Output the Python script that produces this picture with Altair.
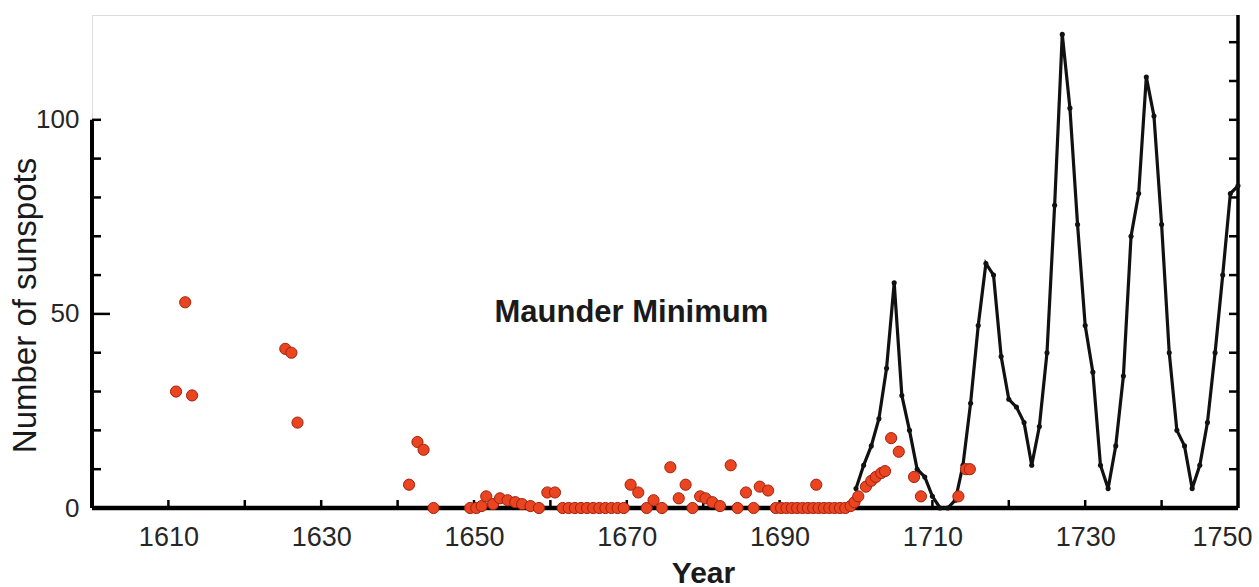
import altair as alt
import pandas as pd

# Observed (early telescopic) sunspot numbers - red dots
red_years = [1611.0, 1612.2, 1613.1, 1625.3, 1626.1, 1626.9, 1641.5, 1642.6, 1643.4, 1644.7,
             1649.5, 1650.3, 1651.0, 1651.6, 1652.5, 1653.4, 1654.4, 1655.4, 1656.3, 1657.4,
             1658.5, 1659.6, 1660.6, 1661.6,
             1662.4, 1663.2, 1664.0, 1664.8, 1665.6, 1666.4, 1667.2, 1668.0, 1668.8, 1669.6,
             1670.5, 1671.5, 1672.6, 1673.5, 1674.6, 1675.7, 1676.8, 1677.7, 1678.6, 1679.6,
             1680.3, 1681.2, 1682.2, 1683.6, 1684.5, 1685.6, 1686.6, 1687.4, 1688.5, 1689.5,
             1690.2, 1690.9, 1691.6, 1692.3, 1693.0, 1693.7, 1694.4, 1694.8, 1695.1, 1695.8,
             1696.5, 1697.2, 1697.9, 1698.6, 1699.3, 1699.8,
             1700.3, 1701.3, 1702.0, 1702.6, 1703.3, 1703.8, 1704.6, 1705.6, 1707.6, 1708.5,
             1713.4, 1714.4, 1714.9]
red_values = [30, 53, 29, 41, 40, 22, 6, 17, 15, 0,
              0, 0, 0.5, 3, 1, 2.5, 2, 1.5, 1, 0.5,
              0, 4, 4, 0,
              0, 0, 0, 0, 0, 0, 0, 0, 0, 0,
              6, 4, 0, 2, 0, 10.5, 2.5, 6, 0, 3,
              2.5, 1.5, 0.5, 11, 0, 4, 0, 5.5, 4.5, 0,
              0, 0, 0, 0, 0, 0, 0, 6, 0, 0,
              0, 0, 0, 0, 0.5, 1.5,
              3, 5.5, 7, 8, 9, 9.5, 18, 14.5, 8, 3,
              3, 10, 10]

# Yearly sunspot numbers - black line
line_years = [1700, 1701, 1702, 1703, 1704, 1705, 1706, 1707, 1708, 1709,
              1710, 1711, 1712, 1713, 1714, 1715, 1716, 1717, 1718, 1719,
              1720, 1721, 1722, 1723, 1724, 1725, 1726, 1727, 1728, 1729,
              1730, 1731, 1732, 1733, 1734, 1735, 1736, 1737, 1738, 1739,
              1740, 1741, 1742, 1743, 1744, 1745, 1746, 1747, 1748, 1749, 1750]
line_values = [5, 11, 16, 23, 36, 58, 29, 20, 10, 8,
               3, 0, 0, 2, 11, 27, 47, 63, 60, 39,
               28, 26, 22, 11, 21, 40, 78, 122, 103, 73,
               47, 35, 11, 5, 16, 34, 70, 81, 111, 101,
               73, 40, 20, 16, 5, 11, 22, 40, 60, 81, 83]

# Axes
x_tick_years = [1610, 1620, 1630, 1640, 1650, 1660, 1670, 1680, 1690, 1700, 1710, 1720, 1730, 1740]
x_label_years = [1610, 1630, 1650, 1670, 1690, 1710, 1730, 1750]
y_label_values = [0, 50, 100]
y_minor_ticks = [10, 20, 30, 40, 60, 70, 80, 90, 100]
y_major_ticks = [50]
right_ticks = [10, 20, 30, 40, 50, 60, 70, 80, 90, 100, 110, 120]
x_domain = [1600, 1750]
y_domain = [0, 127]

annot_text = ["Maunder Minimum"]
annot_x = [1670.6]
annot_y = [48]

FONT = "Liberation Sans"

xs = alt.Scale(domain=x_domain, nice=False, zero=False)
ys = alt.Scale(domain=y_domain, nice=False, zero=False)

x_axis = alt.Axis(values=x_label_years, format="d", domain=False, ticks=False, tickSize=0,
                  grid=False, labelFont=FONT, labelFontSize=27, labelColor="#262626",
                  labelPadding=16, labelOverlap=False, labelFlush=True, labelFlushOffset=14,
                  title="Year", titleFont=FONT, titleFontSize=30, titleFontWeight="bold",
                  titleColor="#1a1a1a", titleX=611, titleY=74, titleBaseline="alphabetic",
                  titleAlign="center")
y_axis = alt.Axis(values=y_label_values, format="d", domain=False, ticks=False, tickSize=0,
                  grid=False, labelFont=FONT, labelFontSize=26, labelColor="#262626",
                  labelPadding=13, labelOverlap=False,
                  title="Number of sunspots", titleFont=FONT, titleFontSize=33,
                  titleFontWeight="normal", titleColor="#1a1a1a", titleX=-57, titleY=290,
                  titleAngle=270, titleBaseline="alphabetic", titleAlign="center")

X = alt.X("x:Q", scale=xs, axis=x_axis)
Y = alt.Y("y:Q", scale=ys, axis=y_axis)

red_df = pd.DataFrame({"x": red_years, "y": red_values})
line_df = pd.DataFrame({"x": line_years, "y": line_values})

# axis lines
xline_df = pd.DataFrame({"x": [x_domain[0]], "x2": [x_domain[1]], "y": [0]})
left_df = pd.DataFrame({"x": [x_domain[0]], "y": [0], "y2": [100]})
right_df = pd.DataFrame({"x": [x_domain[1]], "y": [0], "y2": [y_domain[1]]})

xticks_df = pd.DataFrame({"x": x_tick_years, "y": [0] * len(x_tick_years),
                          "y2": [0] * len(x_tick_years)})
lminor_df = pd.DataFrame({"x": [x_domain[0]] * len(y_minor_ticks),
                          "x2": [x_domain[0]] * len(y_minor_ticks), "y": y_minor_ticks})
lmajor_df = pd.DataFrame({"x": [x_domain[0]] * len(y_major_ticks),
                          "x2": [x_domain[0]] * len(y_major_ticks), "y": y_major_ticks})
rticks_df = pd.DataFrame({"x": [x_domain[1]] * len(right_ticks),
                          "x2": [x_domain[1]] * len(right_ticks), "y": right_ticks})
annot_df = pd.DataFrame({"x": annot_x, "y": annot_y, "t": annot_text})

AX = "#000000"

xline = alt.Chart(xline_df).mark_rule(color=AX, strokeWidth=4.5).encode(x=X, x2="x2:Q", y=Y)
lline = alt.Chart(left_df).mark_rule(color=AX, strokeWidth=4).encode(x=X, y=Y, y2="y2:Q")
rline = alt.Chart(right_df).mark_rule(color=AX, strokeWidth=3.5).encode(x=X, y=Y, y2="y2:Q")
xt = alt.Chart(xticks_df).mark_rule(color=AX, strokeWidth=2.5, y2Offset=-8).encode(x=X, y=Y, y2="y2:Q")
lmin = alt.Chart(lminor_df).mark_rule(color=AX, strokeWidth=2.5, x2Offset=9).encode(x=X, x2="x2:Q", y=Y)
lmaj = alt.Chart(lmajor_df).mark_rule(color=AX, strokeWidth=2.5, x2Offset=18).encode(x=X, x2="x2:Q", y=Y)
rt = alt.Chart(rticks_df).mark_rule(color=AX, strokeWidth=2.5, x2Offset=-9).encode(x=X, x2="x2:Q", y=Y)

line = alt.Chart(line_df).mark_line(color="#111111", strokeWidth=3.2).encode(x=X, y=Y)
line_pts = alt.Chart(line_df).mark_point(filled=True, color="#111111", size=26, opacity=1).encode(x=X, y=Y)

red = alt.Chart(red_df).mark_point(filled=True, shape="circle", size=125, fill="#EA4420",
                                   stroke="#A0230F", strokeWidth=1, opacity=1).encode(x=X, y=Y)

annot = alt.Chart(annot_df).mark_text(font=FONT, fontSize=31, fontWeight="bold", color="#1a1a1a",
                                      align="center", baseline="alphabetic").encode(x=X, y=Y, text="t:N")

chart = alt.layer(xline, lline, rline, xt, lmin, lmaj, rt, line, line_pts, red, annot).properties(
    width=1146, height=493,
    autosize=alt.AutoSizeParams(type="none"),
    padding={"left": 92, "top": 15, "right": 21, "bottom": 79},
    background="white",
).configure_view(strokeWidth=0).configure(font=FONT)

chart.save("out.html", embed_options={"renderer": "svg", "actions": False})
